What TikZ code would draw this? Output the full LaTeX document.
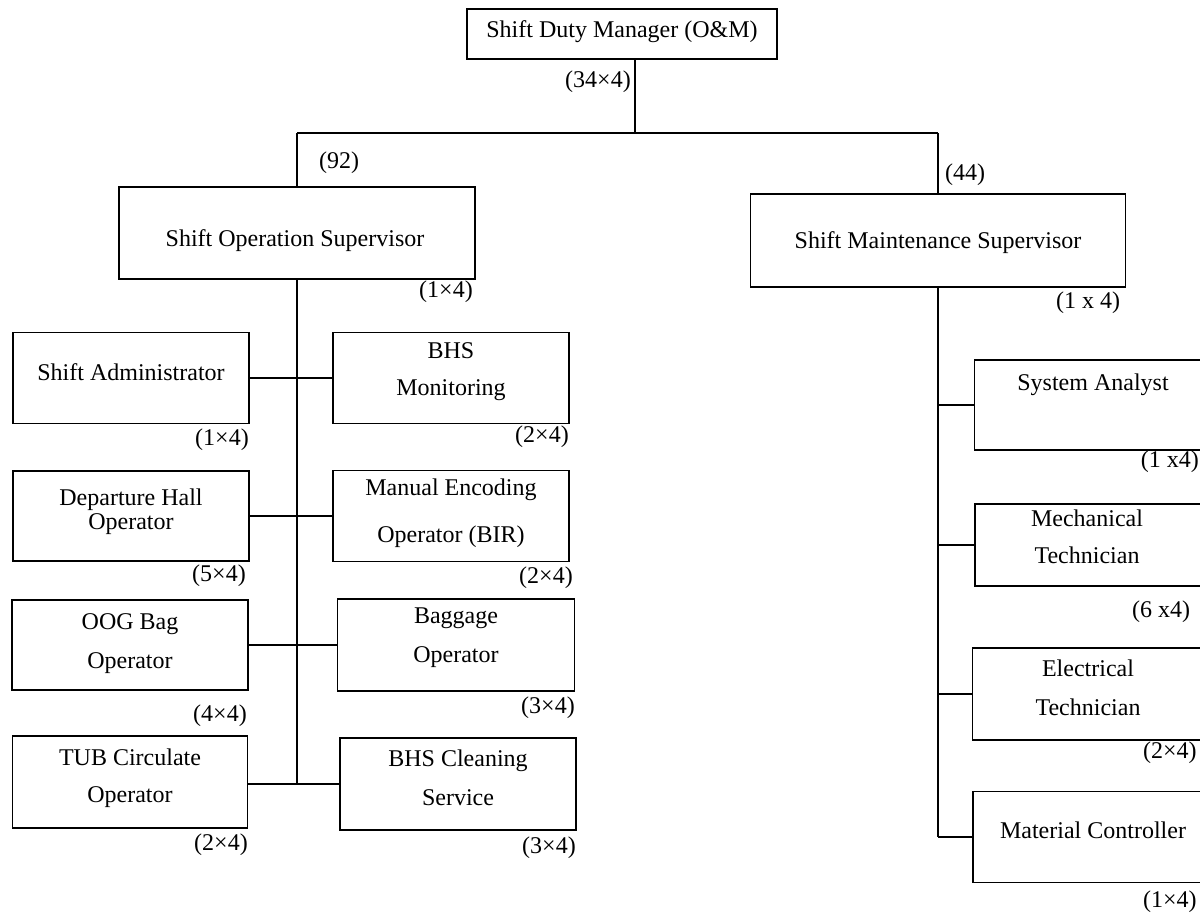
\documentclass[tikz,border=0pt]{standalone}
\usepackage{fontspec}
\setmainfont{Liberation Serif}
\begin{document}
\begin{tikzpicture}[x=1pt,y=-1pt,
  box/.style={draw=black, line width=1.6pt, rectangle, inner sep=0pt, outer sep=0pt},
  txt/.style={inner sep=0pt, font=\fontsize{24}{28}\selectfont},
  lnk/.style={draw=black, line width=1.6pt}]
\useasboundingbox (0,0) rectangle (1200,919);
\clip (0,0) rectangle (1200,919);
\fill[white] (0,0) rectangle (1200,919);

% top
\node[box, minimum width=310, minimum height=50] (sdm) at (622,34) {};
\node[txt] (sdmT) at (622,32) {Shift Duty Manager (O\&M)};
\node[txt] (l34) at (598,82) {(34×4)};
\coordinate (j0) at (635,133);
\coordinate (jl) at (297,133);
\coordinate (jr) at (938,133);

% supervisors
\node[box, minimum width=356, minimum height=92] (sos) at (297,233) {};
\node[txt] (sosT) at (295,241) {Shift Operation Supervisor};
\node[txt] (l92) at (339,163) {(92)};
\node[txt] (lsos) at (446,292) {(1×4)};

\node[box, minimum width=375, minimum height=93] (sms) at (938,240.5) {};
\node[txt] (smsT) at (938,243) {Shift Maintenance Supervisor};
\node[txt] (l44) at (965,175) {(44)};
\node[txt] (lsms) at (1088,303) {(1 x 4)};

\draw[lnk] (sdm.south -| j0) -- (j0);
\draw[lnk] (jl) -- (jr);
\draw[lnk] (jl) -- (sos.north -| jl);
\draw[lnk] (jr) -- (sms.north -| jr);

% left column
\node[box, minimum width=236, minimum height=91] (sa) at (131,378) {};
\node[txt] (saT) at (131,372) {Shift Administrator};
\node[txt] (lsa) at (222,440) {(1×4)};

\node[box, minimum width=236, minimum height=91] (bm) at (451,378) {};
\node[txt] (bmT1) at (451,351) {BHS};
\node[txt] (bmT2) at (451,390) {Monitoring};
\node[txt] (lbm) at (542,437) {(2×4)};

\node[box, minimum width=236, minimum height=90] (dh) at (131,516) {};
\node[txt] (dhT1) at (131,500) {Departure Hall};
\node[txt] (dhT2) at (131,524) {Operator};
\node[txt] (ldh) at (219,576) {(5×4)};

\node[box, minimum width=236, minimum height=91] (me) at (451,516) {};
\node[txt] (meT1) at (451,490) {Manual Encoding};
\node[txt] (meT2) at (451,537) {Operator (BIR)};
\node[txt] (lme) at (546,578) {(2×4)};

\node[box, minimum width=236, minimum height=90] (oog) at (130,645) {};
\node[txt] (oogT1) at (130,624) {OOG Bag};
\node[txt] (oogT2) at (130,663) {Operator};
\node[txt] (loog) at (220,716) {(4×4)};

\node[box, minimum width=237, minimum height=92] (bag) at (456,645) {};
\node[txt] (bagT1) at (456,618) {Baggage};
\node[txt] (bagT2) at (456,657) {Operator};
\node[txt] (lbag) at (548,708) {(3×4)};

\node[box, minimum width=235, minimum height=92] (tub) at (130,782) {};
\node[txt] (tubT1) at (130,757) {TUB Circulate};
\node[txt] (tubT2) at (130,797) {Operator};
\node[txt] (ltub) at (221,845) {(2×4)};

\node[box, minimum width=236, minimum height=92] (bc) at (458,784) {};
\node[txt] (bcT1) at (458,761) {BHS Cleaning};
\node[txt] (bcT2) at (458,798) {Service};
\node[txt] (lbc) at (549,848) {(3×4)};

\coordinate (lv) at (297,784);
\draw[lnk] (sos.south -| lv) -- (lv);
\draw[lnk] (sa.east) -- (bm.west);
\draw[lnk] (dh.east) -- (me.west);
\draw[lnk] (oog.east) -- (bag.west);
\draw[lnk] (tub.east |- lv) -- (bc.west);

% right column
\node[box, minimum width=241, minimum height=90] (sys) at (1095,405) {};
\node[txt] (sysT) at (1093,385) {System Analyst};
\node[txt, anchor=east] (lsys) at (1199,462) {(1 x4)};

\node[box, minimum width=240, minimum height=82] (mec) at (1095,545) {};
\node[txt] (mecT1) at (1087,518) {Mechanical};
\node[txt] (mecT2) at (1087,555) {Technician};
\node[txt, anchor=west] (lmec) at (1132,612) {(6 x4)};

\node[box, minimum width=243, minimum height=92] (ele) at (1094,694) {};
\node[txt] (eleT1) at (1088,668) {Electrical};
\node[txt] (eleT2) at (1088,707) {Technician};
\node[txt, anchor=west] (lele) at (1143,753) {(2×4)};

\node[box, minimum width=242, minimum height=91] (mat) at (1094,837) {};
\node[txt] (matT) at (1093,830) {Material Controller};
\node[txt, anchor=west] (lmat) at (1143,902) {(1×4)};

\coordinate (rv) at (938,837);
\draw[lnk] (sms.south -| rv) -- (rv);
\draw[lnk] (sys.west -| rv) -- (sys.west);
\draw[lnk] (mec.west -| rv) -- (mec.west);
\draw[lnk] (ele.west -| rv) -- (ele.west);
\draw[lnk] (rv) -- (mat.west);
\end{tikzpicture}
\end{document}
